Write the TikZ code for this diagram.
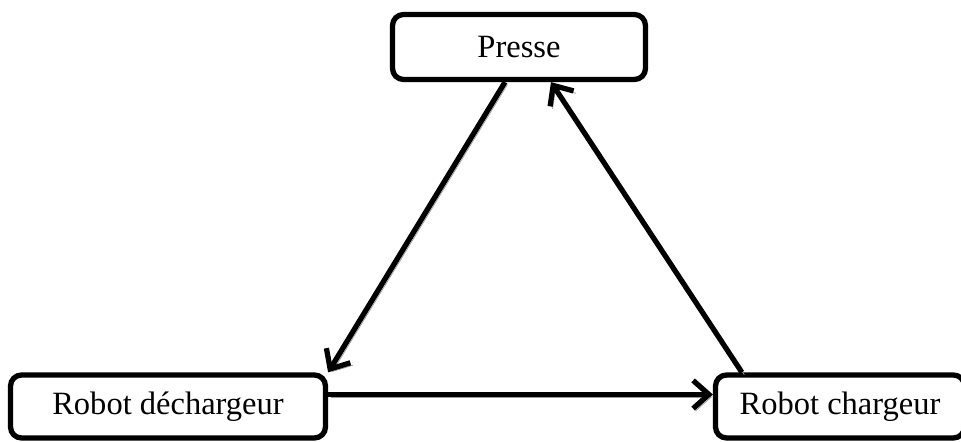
\documentclass[tikz,border=0pt]{standalone}
\usepackage{fontspec}
\setmainfont{Liberation Serif}
\usepackage{tikz}
\usetikzlibrary{arrows.meta,positioning}
\definecolor{shade}{HTML}{9A9A9A}

\begin{document}
\begin{tikzpicture}[x=0.02cm,y=-0.02cm,
  boite/.style={rectangle,rounded corners=0.22cm,draw=black,line width=3pt,fill=white,minimum height=1.26cm,align=center,font=\fontsize{18.5}{20}\selectfont,inner sep=0pt},
  fleche/.style={-{Straight Barb[length=9pt,width=16pt,line width=3pt]},line width=3pt,preaction={draw=shade,transform canvas={shift={(1.4pt,-1.4pt)}}}}]
\useasboundingbox (0,0) rectangle (961,442);
\clip (0,0) rectangle (961,442);
\node[boite,minimum width=5.06cm,minimum height=1.3cm] (presse) at (519,47) {Presse};
\node[boite,minimum width=6.3cm] (dech) at (168,406.5) {Robot déchargeur};
\node[boite,minimum width=4.98cm] (charg) at (840,406.5) {Robot chargeur};
\draw[fleche] ([xshift=-0.28cm]presse.south) -- (dech.north east);
\draw[fleche] ([yshift=0.24cm]dech.east) -- ([yshift=0.24cm]charg.west);
\draw[fleche] ([xshift=0.58cm]charg.north west) -- ([xshift=0.64cm]presse.south);
\end{tikzpicture}
\end{document}
